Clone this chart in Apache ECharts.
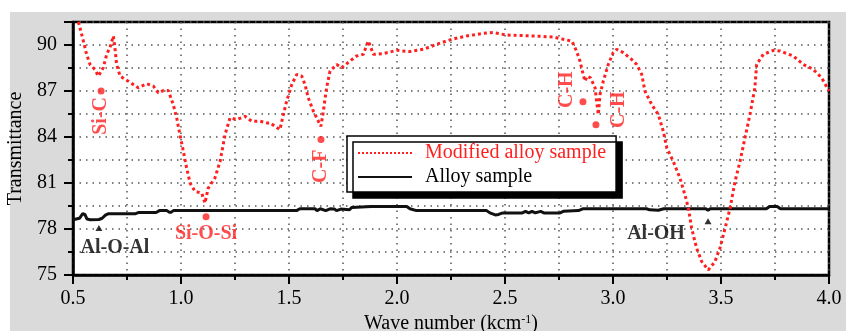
<!DOCTYPE html>
<html>
<head>
<meta charset="utf-8">
<script src="https://cdn.jsdelivr.net/npm/echarts@6/dist/echarts.min.js"></script>
<style>
  html, body { margin: 0; padding: 0; background: #fff; }
  #chart { width: 846px; height: 331px; }
</style>
</head>
<body>
<div id="chart"></div>
<script>
// modified alloy sample (red dotted), [wave number, transmittance]
const modifiedSample = [
  [0.5, 92.2], [0.523, 91.6], [0.532, 91.13], [0.548, 90.26], [0.563, 89.39], [0.579, 88.73],
  [0.602, 88.4], [0.617, 87.97], [0.64, 88.52], [0.656, 89.39], [0.671, 89.83], [0.687, 90.59],
  [0.694, 89.83], [0.702, 88.73], [0.718, 87.97], [0.756, 87.64], [0.802, 87.21], [0.841, 87.47],
  [0.872, 87.32], [0.895, 86.88], [0.918, 87.03], [0.941, 87.03], [0.964, 86.12], [0.98, 85.25],
  [0.995, 84.16], [1.011, 83.06], [1.026, 81.98], [1.042, 81.0], [1.065, 80.45], [1.096, 80.34],
  [1.111, 79.69], [1.126, 80.67], [1.157, 81.32], [1.181, 82.41], [1.204, 84.16], [1.227, 85.25],
  [1.258, 85.14], [1.296, 85.35], [1.327, 85.03], [1.366, 85.03], [1.397, 84.92], [1.412, 84.92],
  [1.435, 84.7], [1.458, 84.48], [1.474, 85.46], [1.489, 86.33], [1.513, 87.43], [1.536, 88.08],
  [1.559, 87.97], [1.574, 87.43], [1.589, 86.56], [1.613, 85.68], [1.636, 85.03], [1.648, 84.7],
  [1.659, 85.68], [1.674, 87.21], [1.69, 88.3], [1.721, 88.73], [1.744, 88.52], [1.782, 88.95],
  [1.813, 89.28], [1.844, 89.39], [1.867, 90.26], [1.891, 89.39], [1.937, 89.44], [1.999, 89.65],
  [2.06, 89.57], [2.122, 89.72], [2.183, 90.04], [2.253, 90.37], [2.323, 90.59], [2.4, 90.76],
  [2.446, 90.81], [2.508, 90.65], [2.631, 90.59], [2.724, 90.52], [2.77, 90.37], [2.809, 90.26],
  [2.831, 89.61], [2.847, 88.95], [2.862, 88.08], [2.87, 87.64], [2.88, 87.97], [2.896, 87.86],
  [2.917, 87.21], [2.924, 86.33], [2.932, 85.46], [2.94, 86.77], [2.955, 87.64], [2.978, 88.73],
  [3.001, 89.5], [3.017, 89.72], [3.048, 89.5], [3.086, 89.06], [3.11, 88.73], [3.133, 88.08],
  [3.148, 86.99], [3.179, 86.12], [3.21, 85.46], [3.233, 84.37], [3.249, 83.29], [3.279, 82.41],
  [3.31, 81.32], [3.333, 80.23], [3.349, 79.36], [3.364, 78.05], [3.387, 76.75], [3.411, 75.87],
  [3.441, 75.33], [3.472, 75.87], [3.495, 76.75], [3.519, 78.05], [3.542, 79.36], [3.565, 81.1],
  [3.588, 82.41], [3.611, 83.94], [3.634, 85.46], [3.657, 87.21], [3.665, 88.73], [3.696, 89.39],
  [3.742, 89.65], [3.773, 89.61], [3.835, 89.28], [3.881, 88.73], [3.927, 88.41], [3.966, 87.86],
  [4.0, 87.0]
]

// alloy sample (black solid)
const alloySample = [
  [0.5, 78.6], [0.53, 78.7], [0.545, 79.0], [0.555, 78.95], [0.565, 78.65], [0.58, 78.6],
  [0.62, 78.62], [0.635, 78.7], [0.65, 78.9], [0.665, 79.0], [0.79, 79.0], [0.805, 79.08],
  [0.885, 79.08], [0.9, 79.2], [0.935, 79.2], [0.945, 79.1], [0.955, 79.1], [0.965, 79.2],
  [1.535, 79.2], [1.55, 79.32], [1.62, 79.32], [1.63, 79.2], [1.645, 79.32], [1.67, 79.2],
  [1.69, 79.32], [1.71, 79.3], [1.72, 79.2], [1.74, 79.3], [1.78, 79.25], [1.79, 79.4],
  [1.88, 79.47], [2.045, 79.47], [2.06, 79.32], [2.09, 79.2], [2.415, 79.2], [2.43, 79.05],
  [2.455, 78.92], [2.47, 78.95], [2.49, 79.05], [2.58, 79.05], [2.595, 79.15], [2.61, 79.05],
  [2.625, 79.15], [2.64, 79.05], [2.665, 79.15], [2.68, 79.05], [2.755, 79.05], [2.77, 79.15],
  [2.84, 79.2], [2.86, 79.32], [3.155, 79.32], [3.17, 79.25], [3.21, 79.22], [3.235, 79.32],
  [3.43, 79.32], [3.44, 79.22], [3.45, 79.32], [3.71, 79.32], [3.725, 79.47], [3.76, 79.47],
  [3.775, 79.32], [4.0, 79.32]
]

// band markers
const redPeakNames = ['Si-C', 'Si-O-Si', 'C-F', 'C-H', 'C-H']
const redPeakX = [0.63, 1.116, 1.648, 2.861, 2.921]
const redPeakY = [87.0, 78.8, 83.83, 86.3, 84.8]
const blackPeakNames = ['Al-O-Al', 'Al-OH']
const blackPeakX = [0.62, 3.44]
const blackPeakY = [78.07, 78.5]

const FONT = '"Liberation Serif", "Times New Roman", serif'
const RED = '#ff1f1f'

// label placement for each marker (pixel offsets from the marker)
const redLabelStyle = [
  { rotate: 90, position: [3.5, 9.5], align: 'right', verticalAlign: 'middle' },
  { position: [3.5, 21], align: 'center', verticalAlign: 'middle' },
  { rotate: 90, position: [3.5, 13.5], align: 'right', verticalAlign: 'middle' },
  { rotate: 90, position: [-12.5, -8.5], align: 'center', verticalAlign: 'middle' },
  { rotate: 90, position: [26.5, -11.5], align: 'center', verticalAlign: 'middle' }
]
const blackLabelStyle = [
  { position: [19.5, 22.5], align: 'center', verticalAlign: 'middle' },
  { position: [-48.5, 15.5], align: 'center', verticalAlign: 'middle' }
]

const chart = echarts.init(document.getElementById('chart'))

const dotted = { type: [1.5, 5], color: '#555', width: 1.5 }

const option = {
  backgroundColor: '#fff',
  animation: false,
  textStyle: { fontFamily: FONT },
  graphic: [
    {
      type: 'rect', z: -10, silent: true,
      shape: { x: 10, y: 12, width: 836, height: 319 },
      style: { fill: '#dadada' }
    }
  ],
  grid: {
    left: 73, top: 22, right: 17, bottom: 56,
    outerBoundsMode: 'none',
    containLabel: false,
    show: true, backgroundColor: '#fff', borderColor: '#000', borderWidth: 2.5
  },
  legend: {
    data: [
      { name: 'Modified alloy sample', textStyle: { color: RED } },
      { name: 'Alloy sample', textStyle: { color: '#000' } }
    ],
    orient: 'vertical',
    left: 347, top: 136,
    padding: [7, 10, 5, 10],
    itemWidth: 54, itemHeight: 14, itemGap: 4,
    // only the line sample, no symbol in the middle
    itemStyle: { color: 'rgba(0,0,0,0)', borderColor: 'rgba(0,0,0,0)', borderWidth: 0 },
    backgroundColor: '#fff', borderColor: '#000', borderWidth: 1.5,
    shadowColor: '#000', shadowBlur: 0, shadowOffsetX: 6, shadowOffsetY: 6,
    textStyle: { fontFamily: FONT, fontSize: 20, lineHeight: 20, padding: [0, 0, 0, 8] }
  },
  xAxis: {
    type: 'value', min: 0.5, max: 4.0, interval: 0.5,
    name: 'Wave number (kcm{sup|-1})',
    nameLocation: 'middle', nameGap: 37,
    nameTextStyle: {
      fontFamily: FONT, fontSize: 20, color: '#000',
      rich: { sup: { fontFamily: FONT, fontSize: 12, verticalAlign: 'top', padding: [0, 0, 8, 0] } }
    },
    axisLine: { onZero: false, lineStyle: { color: '#000', width: 2.5 } },
    axisTick: { length: 9, lineStyle: { color: '#000', width: 2 } },
    minorTick: { show: true, splitNumber: 2, length: 5, lineStyle: { color: '#000', width: 2 } },
    axisLabel: { fontFamily: FONT, fontSize: 20, color: '#000', margin: 14, formatter: v => v.toFixed(1) },
    splitLine: { show: true, lineStyle: dotted },
    minorSplitLine: { show: true, lineStyle: dotted }
  },
  yAxis: {
    type: 'value', min: 75, max: 91.5, interval: 3,
    name: 'Transmittance',
    nameLocation: 'middle', nameGap: 38,
    nameTextStyle: { fontFamily: FONT, fontSize: 20, color: '#000' },
    axisLine: { show: true, onZero: false, lineStyle: { color: '#000', width: 2.5 } },
    axisTick: { show: true, length: 9, lineStyle: { color: '#000', width: 2 } },
    minorTick: { show: true, splitNumber: 2, length: 5, lineStyle: { color: '#000', width: 2 } },
    axisLabel: { fontFamily: FONT, fontSize: 20, color: '#000', margin: 16, showMaxLabel: false },
    splitLine: { show: true, lineStyle: dotted },
    minorSplitLine: { show: true, lineStyle: dotted }
  },
  series: [
    {
      name: 'Alloy sample',
      type: 'line',
      data: alloySample,
      symbol: 'none',
      lineStyle: { color: '#111', width: 3 },
      itemStyle: { color: '#111' },
      z: 3
    },
    {
      name: 'Modified alloy sample',
      type: 'line',
      data: modifiedSample,
      symbol: 'none',
      lineStyle: { color: RED, width: 3, type: 'dotted' },
      itemStyle: { color: RED },
      z: 4
    },
    {
      name: 'red peaks',
      type: 'scatter',
      symbol: 'circle',
      symbolSize: 7,
      itemStyle: { color: RED },
      label: { show: true, color: RED, fontFamily: FONT, fontSize: 20, fontWeight: 'bold', formatter: '{b}' },
      data: redPeakNames.map((n, i) => ({
        name: n, value: [redPeakX[i], redPeakY[i]], label: redLabelStyle[i]
      })),
      z: 5
    },
    {
      name: 'black peaks',
      type: 'scatter',
      symbol: 'triangle',
      symbolSize: [7, 6],
      itemStyle: { color: '#000' },
      label: { show: true, color: '#000', fontFamily: FONT, fontSize: 20, fontWeight: 'bold', formatter: '{b}' },
      data: blackPeakNames.map((n, i) => ({
        name: n, value: [blackPeakX[i], blackPeakY[i]], label: blackLabelStyle[i]
      })),
      z: 5
    }
  ]
}

chart.setOption(option)
</script>
</body>
</html>
